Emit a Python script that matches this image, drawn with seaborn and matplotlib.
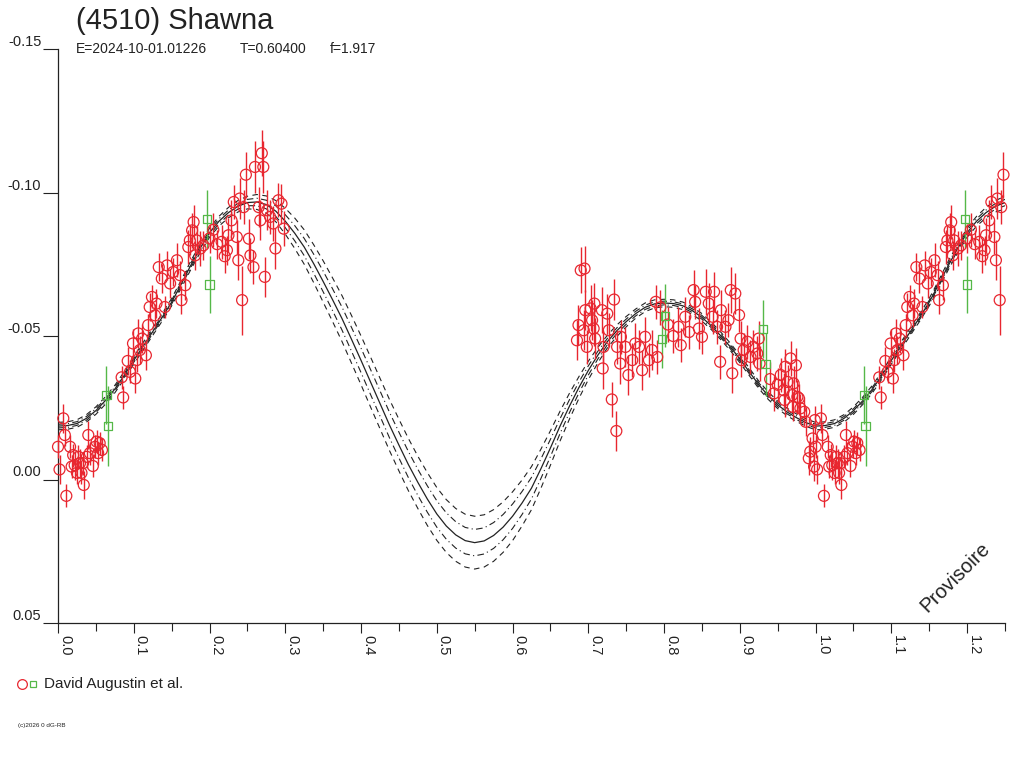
import numpy as np
import pandas as pd
import matplotlib
matplotlib.use("Agg")
import matplotlib.pyplot as plt
import seaborn as sns

# red circles: phase, magnitude, error
red_phase = [
    0.000, 0.002, 0.007, 0.009, 0.011, 0.016, 0.018, 0.020, 0.022, 0.025,
    0.027, 0.029, 0.031, 0.033, 0.034, 0.038, 0.040, 0.042, 0.046, 0.049,
    0.051, 0.053, 0.055, 0.058, 0.084, 0.086, 0.092, 0.095, 0.099, 0.102,
    0.104, 0.106, 0.108, 0.111, 0.116, 0.119, 0.121, 0.124, 0.128, 0.130,
    0.133, 0.137, 0.141, 0.144, 0.148, 0.152, 0.157, 0.161, 0.163, 0.168,
    0.172, 0.174, 0.177, 0.179, 0.181, 0.183, 0.188, 0.192, 0.200, 0.205,
    0.210, 0.216, 0.220, 0.223, 0.225, 0.229, 0.232, 0.236, 0.238, 0.240,
    0.243, 0.245, 0.248, 0.252, 0.254, 0.258, 0.260, 0.265, 0.267, 0.269,
    0.271, 0.273, 0.276, 0.280, 0.284, 0.287, 0.291, 0.295, 0.298,
    0.685, 0.687, 0.690, 0.694, 0.695, 0.696, 0.698, 0.703, 0.705, 0.707,
    0.708, 0.709, 0.718, 0.719, 0.720, 0.725, 0.727, 0.731, 0.734, 0.737,
    0.738, 0.742, 0.743, 0.749, 0.753, 0.758, 0.762, 0.767, 0.771, 0.775,
    0.780, 0.784, 0.789, 0.791, 0.795, 0.805, 0.812, 0.819, 0.822, 0.828,
    0.833, 0.839, 0.841, 0.846, 0.850, 0.855, 0.859, 0.864, 0.866, 0.870,
    0.874, 0.875, 0.881, 0.885, 0.888, 0.890, 0.894, 0.899, 0.901, 0.902,
    0.905, 0.910, 0.914, 0.918, 0.923, 0.925, 0.926, 0.940, 0.945, 0.950,
    0.954, 0.958, 0.959, 0.960, 0.963, 0.967, 0.969, 0.970, 0.971, 0.974,
    0.976, 0.978, 0.980, 0.985, 0.987, 0.991, 0.993, 0.996, 0.998, 0.999,
]
red_mag = [
    -0.0114, -0.0035, -0.0213, -0.0155, 0.0057, -0.0114, -0.0045, -0.0085, -0.0050, -0.0023,
    -0.0079, -0.0057, -0.0023, -0.0057, 0.0019, -0.0079, -0.0155, -0.0092, -0.0047, -0.0114,
    -0.0132, -0.0092, -0.0127, -0.0103, -0.0356, -0.0286, -0.0413, -0.0375, -0.0474, -0.0352,
    -0.0416, -0.0509, -0.0451, -0.0491, -0.0433, -0.0538, -0.0601, -0.0636, -0.0572, -0.0613,
    -0.0740, -0.0700, -0.0601, -0.0746, -0.0683, -0.0723, -0.0764, -0.0712, -0.0625, -0.0677,
    -0.0810, -0.0833, -0.0868, -0.0897, -0.0781, -0.0833, -0.0805, -0.0816, -0.0840, -0.0870,
    -0.0820, -0.0828, -0.0778, -0.0799, -0.0851, -0.0903, -0.0967, -0.0845, -0.0764, -0.0979,
    -0.0625, -0.0949, -0.1062, -0.0839, -0.0781, -0.0740, -0.1089, -0.0949, -0.0903, -0.1137,
    -0.1089, -0.0706, -0.0938, -0.0915, -0.0892, -0.0805, -0.0973, -0.0961, -0.0874,
    -0.0485, -0.0538, -0.0729, -0.0520, -0.0735, -0.0590, -0.0462, -0.0596, -0.0555, -0.0526,
    -0.0613, -0.0491, -0.0590, -0.0387, -0.0462, -0.0578, -0.0520, -0.0279, -0.0627, -0.0169,
    -0.0462, -0.0404, -0.0497, -0.0462, -0.0364, -0.0416, -0.0474, -0.0462, -0.0381, -0.0497,
    -0.0416, -0.0451, -0.0619, -0.0427, -0.0600, -0.0540, -0.0500, -0.0532, -0.0468, -0.0567,
    -0.0514, -0.0660, -0.0619, -0.0526, -0.0497, -0.0654, -0.0613, -0.0567, -0.0654, -0.0532,
    -0.0410, -0.0590, -0.0532, -0.0555, -0.0660, -0.0370, -0.0648, -0.0573, -0.0491, -0.0416,
    -0.0451, -0.0480, -0.0427, -0.0462, -0.0439, -0.0491, -0.0404, -0.0350, -0.0300, -0.0330,
    -0.0364, -0.0311, -0.0277, -0.0393, -0.0340, -0.0422, -0.0294, -0.0253, -0.0335, -0.0398,
    -0.0288, -0.0283, -0.0248, -0.0236, -0.0201, -0.0074, -0.0097, -0.0143, -0.0045, -0.0207,
]
red_err = [
    0.004, 0.005, 0.005, 0.004, 0.004, 0.004, 0.004, 0.004, 0.005, 0.004,
    0.004, 0.005, 0.004, 0.004, 0.005, 0.004, 0.005, 0.004, 0.004, 0.004,
    0.004, 0.004, 0.004, 0.004, 0.004, 0.004, 0.005, 0.004, 0.005, 0.005,
    0.004, 0.005, 0.005, 0.005, 0.005, 0.004, 0.005, 0.004, 0.004, 0.005,
    0.005, 0.005, 0.004, 0.005, 0.005, 0.005, 0.006, 0.005, 0.005, 0.005,
    0.006, 0.005, 0.006, 0.006, 0.005, 0.005, 0.006, 0.005, 0.005, 0.006,
    0.005, 0.006, 0.006, 0.005, 0.006, 0.007, 0.006, 0.006, 0.007, 0.007,
    0.012, 0.006, 0.008, 0.007, 0.006, 0.006, 0.009, 0.007, 0.007, 0.008,
    0.009, 0.007, 0.007, 0.006, 0.006, 0.007, 0.006, 0.007, 0.006,
    0.007, 0.007, 0.008, 0.007, 0.008, 0.007, 0.006, 0.008, 0.007, 0.006,
    0.007, 0.007, 0.008, 0.007, 0.006, 0.007, 0.006, 0.006, 0.007, 0.007,
    0.006, 0.007, 0.006, 0.007, 0.007, 0.006, 0.007, 0.006, 0.007, 0.007,
    0.006, 0.007, 0.006, 0.006, 0.006, 0.006, 0.006, 0.007, 0.006, 0.007,
    0.006, 0.007, 0.006, 0.007, 0.006, 0.008, 0.007, 0.006, 0.007, 0.006,
    0.006, 0.007, 0.006, 0.006, 0.008, 0.007, 0.007, 0.006, 0.006, 0.006,
    0.006, 0.006, 0.006, 0.006, 0.006, 0.006, 0.006, 0.006, 0.006, 0.006,
    0.006, 0.006, 0.006, 0.006, 0.006, 0.006, 0.006, 0.005, 0.006, 0.006,
    0.006, 0.005, 0.005, 0.005, 0.005, 0.006, 0.005, 0.005, 0.005, 0.005,
]

# green squares
green_phase = [0.064, 0.066, 0.197, 0.200, 0.797, 0.801, 0.931, 0.934]
green_mag = [-0.0294, -0.0186, -0.0907, -0.0679, -0.0489, -0.0570, -0.0524, -0.0402]
green_err = [0.010, 0.014, 0.010, 0.010, 0.010, 0.011, 0.010, 0.011]

# fit curve (solid) every 0.0125 in phase from 0.0 to 1.0
fit_mag = [
    -0.0186, -0.0188, -0.0195, -0.0213, -0.0240, -0.0275, -0.0315, -0.0363, -0.0415, -0.0465,
    -0.0515, -0.0565, -0.0618, -0.0680, -0.0745, -0.0805, -0.0860, -0.0900, -0.0930, -0.0952,
    -0.0965, -0.0967, -0.0958, -0.0935, -0.0900, -0.0858, -0.0810, -0.0752, -0.0690, -0.0626,
    -0.0560, -0.0488, -0.0415, -0.0340, -0.0265, -0.0190, -0.0120, -0.0052, 0.0010, 0.0068,
    0.0120, 0.0162, 0.0193, 0.0213, 0.0220, 0.0214, 0.0195, 0.0166, 0.0128, 0.0082,
    0.0030, -0.0038, -0.0110, -0.0185, -0.0255, -0.0320, -0.0380, -0.0433, -0.0480, -0.0518,
    -0.0550, -0.0578, -0.0600, -0.0612, -0.0615, -0.0613, -0.0605, -0.0588, -0.0565, -0.0535,
    -0.0500, -0.0462, -0.0420, -0.0375, -0.0330, -0.0292, -0.0260, -0.0235, -0.0215, -0.0198,
    -0.0186,
]
# offset of the outer dashed curves from the solid one (inner dash-dot ones sit halfway)
fit_spread = [0.0013] * 13 + [
    0.0014, 0.0015, 0.0015, 0.0016, 0.0017, 0.0018, 0.0020, 0.0022, 0.0026, 0.0030,
    0.0037, 0.0045, 0.0053, 0.0060, 0.0066, 0.0072, 0.0076, 0.0080, 0.0083, 0.0085,
    0.0087, 0.0088, 0.0089, 0.0090, 0.0091, 0.0091, 0.0092, 0.0092, 0.0092, 0.0092,
    0.0092, 0.0092, 0.0091, 0.0090, 0.0088, 0.0085, 0.0080, 0.0075, 0.0068, 0.0060,
    0.0052, 0.0045, 0.0038, 0.0032, 0.0027, 0.0022, 0.0020, 0.0018, 0.0016, 0.0015,
    0.0014,
] + [0.0013] * 17

RED = "#e8262f"
GREEN = "#55b848"
INK = "#222222"

sns.set_style("white")
plt.rcParams["font.family"] = ["Liberation Sans", "DejaVu Sans"]


def wrap(phase, *cols):
    # repeat the first quarter of the phase after 1.0, as the plot runs to 1.25
    phase = np.asarray(phase)
    extra = phase <= 0.2505
    out = [np.concatenate([phase, phase[extra] + 1.0])]
    for c in cols:
        c = np.asarray(c)
        out.append(np.concatenate([c, c[extra]]))
    return out


rp, rm, re = wrap(red_phase, red_mag, red_err)
gp, gm, ge = wrap(green_phase, green_mag, green_err)

fit_phase = np.linspace(0.0, 1.0, len(fit_mag))
fp, fm, fs = wrap(fit_phase[:-1], fit_mag[:-1], fit_spread[:-1])
order = np.argsort(fp)
fit = pd.DataFrame({"phase": fp[order], "mag": fm[order], "spread": fs[order]})

fig = plt.figure(figsize=(10.24, 7.68), dpi=100)
ax = fig.add_axes([58 / 1024, 1 - 623 / 768, (1005 - 58) / 1024, (623 - 49) / 768])

# fit curves
sns.lineplot(x=fit["phase"], y=fit["mag"], ax=ax, color=INK, lw=0.9, sort=False, zorder=2)
for k, ls in [(1.0, (0, (5, 4))), (0.5, (0, (6, 3, 1, 3)))]:
    sns.lineplot(x=fit["phase"], y=fit["mag"] - k * fit["spread"], ax=ax, color=INK,
                 lw=0.8, sort=False, linestyle=ls, zorder=2)
    sns.lineplot(x=fit["phase"], y=fit["mag"] + k * fit["spread"], ax=ax, color=INK,
                 lw=0.8, sort=False, linestyle=ls, zorder=2)

# error bars and points
ax.vlines(rp, rm - re, rm + re, colors=RED, lw=1.0, clip_on=False, zorder=3)
ax.vlines(gp, gm - ge, gm + ge, colors=GREEN, lw=1.0, clip_on=False, zorder=3)
sns.scatterplot(x=rp, y=rm, ax=ax, marker="o", s=62, facecolors="none", edgecolor=RED,
                linewidth=0.9, clip_on=False, legend=False, zorder=4)
sns.scatterplot(x=gp, y=gm, ax=ax, marker="s", s=36, facecolors="none", edgecolor=GREEN,
                linewidth=0.9, clip_on=False, legend=False, zorder=4)

ax.set_xlim(0, 1.25)
ax.set_ylim(0.05, -0.15)
ax.set_xlabel("")
ax.set_ylabel("")

yt = [-0.15, -0.10, -0.05, 0.00, 0.05]
ax.set_yticks(yt)
ax.set_yticklabels(["-0.15", "-0.10", "-0.05", "0.00", "0.05"])
for t in ax.get_yticklabels():
    t.set_va("bottom")

xt = [i / 10 for i in range(13)]
ax.set_xticks(xt)
ax.set_xticklabels([f"{v:.1f}" for v in xt], rotation=-90, ha="left", va="top")
ax.set_xticks([0.05 + i / 10 for i in range(12)] + [1.25], minor=True)

ax.tick_params(axis="y", which="major", direction="out", length=11, width=0.8, pad=1,
               labelsize=10.5, colors=INK, left=True)
ax.tick_params(axis="x", which="major", direction="out", length=7.5, width=0.8, pad=1,
               labelsize=10.5, colors=INK, bottom=True)
ax.tick_params(axis="x", which="minor", direction="out", length=6, width=0.8, bottom=True,
               colors=INK)

for side in ["top", "right"]:
    ax.spines[side].set_visible(False)
for side in ["left", "bottom"]:
    ax.spines[side].set_color(INK)
    ax.spines[side].set_linewidth(0.9)

# texts
fig.text(76 / 1024, 1 - 29 / 768, "(4510) Shawna", fontsize=21, color=INK, va="baseline")
for x, s in [(76, "E=2024-10-01.01226"), (240, "T=0.60400"), (330, "f=1.917")]:
    fig.text(x / 1024, 1 - 53 / 768, s, fontsize=10, color=INK, va="baseline")
fig.text(955 / 1024, 1 - 577 / 768, "Provisoire", fontsize=14.5, color=INK, rotation=45,
         ha="center", va="center")

# legend
fig.lines.append(plt.Line2D([22 / 1024], [1 - 684 / 768], marker="o", ms=7, mfc="none",
                            mec=RED, mew=0.9, transform=fig.transFigure))
fig.lines.append(plt.Line2D([33 / 1024], [1 - 684 / 768], marker="s", ms=5, mfc="none",
                            mec=GREEN, mew=0.9, transform=fig.transFigure))
fig.text(44 / 1024, 1 - 684 / 768, "David Augustin et al.", fontsize=11, color=INK, va="center")
fig.text(18 / 1024, 1 - 725 / 768, "(c)2026 0 dG-RB", fontsize=4.5, color=INK, va="center")

fig.savefig("out.png", dpi=100)
